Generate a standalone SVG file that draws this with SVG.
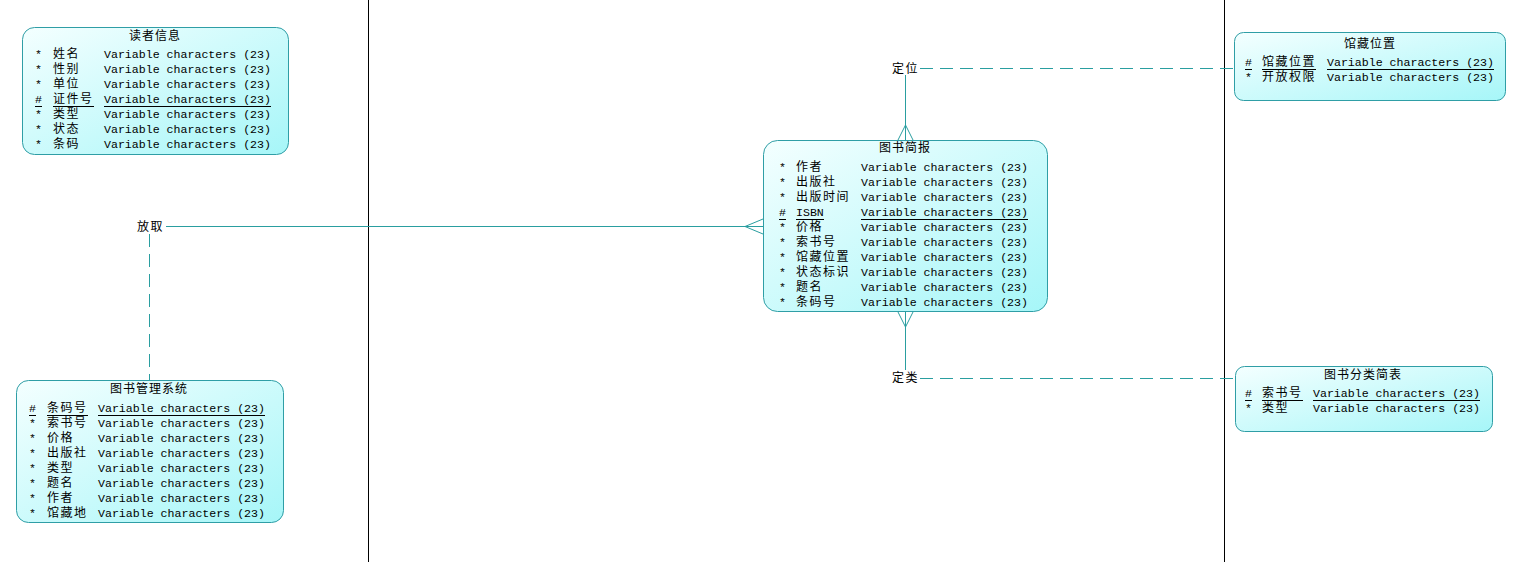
<svg xmlns="http://www.w3.org/2000/svg" width="1532" height="562" viewBox="0 0 1532 562">
  <style>
    .box { stroke: #2f9ea6; stroke-width: 1; fill: url(#entFill); }
    .cjk { font-family: "Noto Sans CJK SC", "Noto Sans", sans-serif; font-size: 12px; letter-spacing: 1.5px; fill: #000; }
    .mono { font-family: "Liberation Mono", "DejaVu Sans Mono", monospace; font-size: 11.6px; fill: #000; }
    .title { text-anchor: middle; letter-spacing: 1px; }
    .ul { stroke: #000; stroke-width: 1; }
    .rel { stroke: #2a9ea0; stroke-width: 1; fill: none; }
    .dash { stroke-dasharray: 13 7; }
    .sep { stroke: #000; stroke-width: 1; }
  </style>
  <defs>
    <linearGradient id="entFill" x1="0" y1="0" x2="1" y2="1">
      <stop offset="0" stop-color="#f4ffff"/>
      <stop offset="1" stop-color="#a6f6f8"/>
    </linearGradient>
  </defs>

  <rect width="1532" height="562" fill="#fff"/>

  <!-- swimlane separators -->
  <line class="sep" x1="368.5" y1="0" x2="368.5" y2="562"/>
  <line class="sep" x1="1224.5" y1="0" x2="1224.5" y2="562"/>

  <!-- relationships -->
  <g id="connectors">
    <!-- 放取 -->
    <line class="rel" x1="166" y1="226.5" x2="763" y2="226.5"/>
    <path class="rel" d="M745,226.5 L763,219 M745,226.5 L763,234"/>
    <line class="rel dash" x1="149.5" y1="234" x2="149.5" y2="380"/>
    <text class="cjk" x="137" y="231">放取</text>
    <!-- 定位 -->
    <line class="rel" x1="905.5" y1="75" x2="905.5" y2="140"/>
    <path class="rel" d="M905.5,125 L898,140 M905.5,125 L913,140"/>
    <line class="rel dash" x1="920" y1="68.5" x2="1234" y2="68.5"/>
    <text class="cjk" x="892" y="73">定位</text>
    <!-- 定类 -->
    <line class="rel" x1="905.5" y1="312" x2="905.5" y2="370"/>
    <path class="rel" d="M905.5,327 L898,312 M905.5,327 L913,312"/>
    <line class="rel dash" x1="920" y1="378.5" x2="1235" y2="378.5"/>
    <text class="cjk" x="892" y="382">定类</text>
  </g>

  <!-- 读者信息 -->
  <g id="reader">
    <rect class="box" x="22.5" y="27.5" width="266" height="127" rx="12"/>
    <text class="cjk title" x="155" y="40">读者信息</text>
    <text class="mono" x="35" y="58">*</text><text class="cjk" x="53" y="58">姓名</text><text class="mono" x="104" y="58">Variable characters (23)</text>
    <text class="mono" x="35" y="73">*</text><text class="cjk" x="53" y="73">性别</text><text class="mono" x="104" y="73">Variable characters (23)</text>
    <text class="mono" x="35" y="88">*</text><text class="cjk" x="53" y="88">单位</text><text class="mono" x="104" y="88">Variable characters (23)</text>
    <text class="mono" x="35" y="103">#</text><text class="cjk" x="53" y="103">证件号</text><text class="mono" x="104" y="103">Variable characters (23)</text>
    <line class="ul" x1="35" y1="106.5" x2="42" y2="106.5"/><line class="ul" x1="53" y1="106.5" x2="94" y2="106.5"/><line class="ul" x1="104" y1="106.5" x2="271" y2="106.5"/>
    <text class="mono" x="35" y="118">*</text><text class="cjk" x="53" y="118">类型</text><text class="mono" x="104" y="118">Variable characters (23)</text>
    <text class="mono" x="35" y="133">*</text><text class="cjk" x="53" y="133">状态</text><text class="mono" x="104" y="133">Variable characters (23)</text>
    <text class="mono" x="35" y="148">*</text><text class="cjk" x="53" y="148">条码</text><text class="mono" x="104" y="148">Variable characters (23)</text>
  </g>

  <!-- 图书管理系统 -->
  <g id="library-system">
    <rect class="box" x="16.5" y="380.5" width="267" height="142" rx="12"/>
    <text class="cjk title" x="149" y="393">图书管理系统</text>
    <text class="mono" x="29" y="412">#</text><text class="cjk" x="47" y="412">条码号</text><text class="mono" x="98" y="412">Variable characters (23)</text>
    <line class="ul" x1="29" y1="415.5" x2="36" y2="415.5"/><line class="ul" x1="47" y1="415.5" x2="88" y2="415.5"/><line class="ul" x1="98" y1="415.5" x2="265" y2="415.5"/>
    <text class="mono" x="29" y="427">*</text><text class="cjk" x="47" y="427">索书号</text><text class="mono" x="98" y="427">Variable characters (23)</text>
    <text class="mono" x="29" y="442">*</text><text class="cjk" x="47" y="442">价格</text><text class="mono" x="98" y="442">Variable characters (23)</text>
    <text class="mono" x="29" y="457">*</text><text class="cjk" x="47" y="457">出版社</text><text class="mono" x="98" y="457">Variable characters (23)</text>
    <text class="mono" x="29" y="472">*</text><text class="cjk" x="47" y="472">类型</text><text class="mono" x="98" y="472">Variable characters (23)</text>
    <text class="mono" x="29" y="487">*</text><text class="cjk" x="47" y="487">题名</text><text class="mono" x="98" y="487">Variable characters (23)</text>
    <text class="mono" x="29" y="502">*</text><text class="cjk" x="47" y="502">作者</text><text class="mono" x="98" y="502">Variable characters (23)</text>
    <text class="mono" x="29" y="517">*</text><text class="cjk" x="47" y="517">馆藏地</text><text class="mono" x="98" y="517">Variable characters (23)</text>
  </g>

  <!-- 图书简报 -->
  <g id="book-brief">
    <rect class="box" x="763.5" y="140.5" width="284" height="171" rx="14"/>
    <text class="cjk title" x="905" y="152">图书简报</text>
    <text class="mono" x="779" y="171">*</text><text class="cjk" x="796" y="171">作者</text><text class="mono" x="861" y="171">Variable characters (23)</text>
    <text class="mono" x="779" y="186">*</text><text class="cjk" x="796" y="186">出版社</text><text class="mono" x="861" y="186">Variable characters (23)</text>
    <text class="mono" x="779" y="201">*</text><text class="cjk" x="796" y="201">出版时间</text><text class="mono" x="861" y="201">Variable characters (23)</text>
    <text class="mono" x="779" y="216">#</text><text class="mono" x="796" y="216">ISBN</text><text class="mono" x="861" y="216">Variable characters (23)</text>
    <line class="ul" x1="779" y1="219.5" x2="786" y2="219.5"/><line class="ul" x1="796" y1="219.5" x2="824" y2="219.5"/><line class="ul" x1="861" y1="219.5" x2="1028" y2="219.5"/>
    <text class="mono" x="779" y="231">*</text><text class="cjk" x="796" y="231">价格</text><text class="mono" x="861" y="231">Variable characters (23)</text>
    <text class="mono" x="779" y="246">*</text><text class="cjk" x="796" y="246">索书号</text><text class="mono" x="861" y="246">Variable characters (23)</text>
    <text class="mono" x="779" y="261">*</text><text class="cjk" x="796" y="261">馆藏位置</text><text class="mono" x="861" y="261">Variable characters (23)</text>
    <text class="mono" x="779" y="276">*</text><text class="cjk" x="796" y="276">状态标识</text><text class="mono" x="861" y="276">Variable characters (23)</text>
    <text class="mono" x="779" y="291">*</text><text class="cjk" x="796" y="291">题名</text><text class="mono" x="861" y="291">Variable characters (23)</text>
    <text class="mono" x="779" y="306">*</text><text class="cjk" x="796" y="306">条码号</text><text class="mono" x="861" y="306">Variable characters (23)</text>
  </g>

  <!-- 馆藏位置 -->
  <g id="location">
    <rect class="box" x="1234.5" y="32.5" width="271" height="68" rx="9"/>
    <text class="cjk title" x="1370" y="48">馆藏位置</text>
    <text class="mono" x="1245" y="66">#</text><text class="cjk" x="1262" y="66">馆藏位置</text><text class="mono" x="1327" y="66">Variable characters (23)</text>
    <line class="ul" x1="1245" y1="69.5" x2="1252" y2="69.5"/><line class="ul" x1="1262" y1="69.5" x2="1316" y2="69.5"/><line class="ul" x1="1327" y1="69.5" x2="1494" y2="69.5"/>
    <text class="mono" x="1245" y="81">*</text><text class="cjk" x="1262" y="81">开放权限</text><text class="mono" x="1327" y="81">Variable characters (23)</text>
  </g>

  <!-- 图书分类简表 -->
  <g id="category">
    <rect class="box" x="1235.5" y="366.5" width="257" height="65" rx="9"/>
    <text class="cjk title" x="1363" y="379">图书分类简表</text>
    <text class="mono" x="1245" y="397">#</text><text class="cjk" x="1262" y="397">索书号</text><text class="mono" x="1313" y="397">Variable characters (23)</text>
    <line class="ul" x1="1245" y1="400.5" x2="1252" y2="400.5"/><line class="ul" x1="1262" y1="400.5" x2="1303" y2="400.5"/><line class="ul" x1="1313" y1="400.5" x2="1480" y2="400.5"/>
    <text class="mono" x="1245" y="412">*</text><text class="cjk" x="1262" y="412">类型</text><text class="mono" x="1313" y="412">Variable characters (23)</text>
  </g>
</svg>
